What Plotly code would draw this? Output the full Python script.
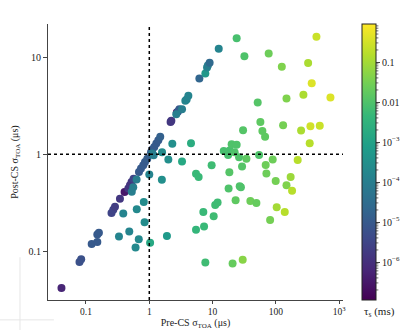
import numpy as np
import plotly.graph_objects as go

# pre-CS and post-CS TOA uncertainty (us), scattering timescale tau_s (ms)
pre_cs = [0.041, 0.079, 0.084, 0.123, 0.151, 0.151, 0.160, 0.253, 0.270, 0.287,
          0.344, 0.407, 0.466, 0.495, 0.525, 0.565, 0.687, 0.739, 0.804, 0.855,
          0.930, 1.064, 1.115, 1.20, 1.29, 1.39, 1.49, 2.17, 2.23, 2.72,
          2.84, 2.98, 3.29, 2.67, 3.71, 3.89, 4.14, 6.18, 7.68, 8.17,
          8.41, 8.98, 12.5,
          0.332, 0.483, 0.607, 0.682, 0.843, 1.03, 0.388, 0.634, 0.819, 0.529,
          0.558, 0.630, 1.0, 1.58, 1.90, 1.17, 1.11, 1.59, 2.00, 2.31,
          3.29, 4.56,
          9.66, 5.47, 6.02, 7.14, 5.47, 7.33, 7.68, 11.0, 12.0, 10.4,
          15.0, 17.6, 18.6, 22.3, 20.0, 24.0, 26.2, 34.2, 18.4, 29.2,
          17.9, 26.8, 28.0, 23.1, 39.5, 49.2, 20.7, 29.9, 24.0, 31.8,
          30.3, 51.6, 56.9, 61.2, 67.5, 54.2, 76.9, 124, 147, 130,
          89.0, 69.0, 70.8, 99.3, 147, 81.0,
          437, 323, 368, 272, 727, 250, 351, 493, 342, 221,
          171, 180, 103, 138]
post_cs = [0.042, 0.078, 0.083, 0.119, 0.125, 0.149, 0.156, 0.248, 0.268, 0.288,
           0.348, 0.409, 0.443, 0.479, 0.518, 0.559, 0.657, 0.712, 0.770, 0.833,
           0.899, 1.048, 1.118, 1.19, 1.29, 1.39, 1.51, 2.15, 2.21, 2.69,
           2.76, 2.91, 2.91, 2.58, 3.54, 3.65, 3.99, 6.00, 6.79, 7.80,
           8.17, 8.73, 12.2,
           0.142, 0.160, 0.110, 0.133, 0.199, 0.123, 0.246, 0.272, 0.322, 0.411,
           0.457, 0.548, 0.618, 0.546, 0.144, 0.977, 1.02, 1.05, 0.882, 1.28,
           0.841, 1.30,
           0.770, 0.630, 0.583, 0.255, 0.167, 0.180, 0.077, 0.300, 0.318, 0.230,
           1.08, 0.983, 1.09, 1.05, 1.27, 1.25, 0.931, 0.899, 0.652, 0.747,
           0.443, 0.468, 0.457, 0.336, 0.330, 0.315, 0.075, 0.082, 15.6, 10.2,
           1.77, 3.41, 2.15, 1.73, 1.51, 0.984, 10.9, 7.94, 3.75, 1.99,
           0.882, 0.776, 0.632, 0.531, 0.479, 0.210,
           16.2, 8.67, 5.36, 4.09, 3.84, 1.75, 1.94, 1.96, 1.30, 0.873,
           0.583, 0.422, 0.284, 0.254]
tau_ms = [6e-7, 6e-6, 6e-6, 1e-5, 1e-5, 1e-5, 1e-5, 3e-6, 3e-6, 2e-6,
          1.5e-6, 3e-7, 1.3e-6, 1.3e-6, 1.3e-6, 3e-6, 1e-5, 1e-5, 1e-5, 1e-5,
          1.2e-5, 1e-5, 1e-5, 1e-5, 1e-5, 1e-5, 1.5e-5, 1.5e-6, 1.5e-6, 1.5e-7,
          1e-5, 1e-5, 1e-4, 1e-4, 1.5e-4, 1.5e-4, 1.5e-4, 2e-5, 5e-4, 1.5e-4,
          1e-4, 2.5e-5, 1.5e-4,
          1.5e-4, 1.5e-4, 2e-4, 2e-4, 2.5e-4, 1.5e-3, 1.5e-4, 2e-4, 2.5e-4, 1e-4,
          1e-4, 1e-4, 1.5e-4, 3e-4, 6e-4, 1e-4, 1e-4, 2.5e-4, 3e-4, 3e-4,
          1.5e-3, 2e-3,
          6e-3, 5e-3, 5e-3, 5e-3, 4e-3, 5e-3, 6e-3, 6e-3, 6e-3, 6e-3,
          8e-3, 8e-3, 8e-3, 0.01, 0.01, 0.01, 0.01, 0.016, 0.012, 0.012,
          0.01, 0.01, 0.01, 0.016, 0.025, 0.02, 0.02, 0.05, 8e-3, 0.01,
          0.012, 0.012, 0.016, 0.016, 0.016, 0.01, 0.025, 0.04, 0.04, 0.03,
          0.025, 0.025, 0.025, 0.03, 0.04, 0.03,
          0.25, 0.12, 0.4, 0.12, 0.4, 0.12, 0.3, 0.25, 0.16, 0.16,
          0.08, 0.16, 0.1, 0.16]

cbar_vals = [-6, -5, -4, -3, -2, -1]
cbar_text = ["10<sup>\u22126</sup>", "10<sup>\u22125</sup>", "10<sup>\u22124</sup>",
             "10<sup>\u22123</sup>", "0.01", "0.1"]
cmin, cmax = -6.95, -0.05

fig = go.Figure(
    go.Scatter(
        x=pre_cs,
        y=post_cs,
        mode="markers",
        marker=dict(
            size=8,
            color=np.log10(tau_ms),
            colorscale="Viridis",
            cmin=cmin,
            cmax=cmax,
            line=dict(width=0),
            colorbar=dict(
                thickness=14,
                len=1,
                lenmode="fraction",
                x=1.064,
                xanchor="left",
                y=0,
                yanchor="bottom",
                xpad=0,
                ypad=0,
                outlinewidth=1,
                outlinecolor="#222",
                tickvals=cbar_vals,
                ticktext=cbar_text,
                ticks="outside",
                ticklen=4,
                tickcolor="#444",
                tickfont=dict(size=10, color="#222"),
            ),
        ),
        showlegend=False,
    )
)

# minor log ticks on the colour bar, drawn beside its right edge
bar_right = 1.064 + 14 / 295
for k in range(-7, 0):
    for m in range(2, 10):
        v = np.log10(m * 10.0 ** k)
        if cmin < v < cmax:
            yp = (v - cmin) / (cmax - cmin)
            fig.add_shape(type="line", xref="paper", yref="paper",
                          x0=bar_right, x1=bar_right + 2.5 / 295, y0=yp, y1=yp,
                          line=dict(color="#444", width=0.8))

fig.add_annotation(text="\u03c4<sub>s</sub> (ms)", xref="paper", yref="paper",
                   x=1.064, y=-0.01, xanchor="left", yanchor="top", showarrow=False,
                   font=dict(size=11, color="#222"))

# dotted guides at sigma = 1 us
fig.add_shape(type="line", xref="x", yref="paper", x0=1, x1=1, y0=0, y1=1,
              line=dict(color="black", width=1.5, dash="dot"))
fig.add_shape(type="line", xref="paper", yref="y", x0=0, x1=1, y0=1, y1=1,
              line=dict(color="black", width=1.5, dash="dot"))

# faint crop marks in the lower left corner
fig.add_shape(type="line", xref="paper", yref="paper", x0=-0.095, x1=-0.095, y0=0.155, y1=-0.11,
              line=dict(color="#e6e6e6", width=1))
fig.add_shape(type="line", xref="paper", yref="paper", x0=-0.163, x1=0.02, y0=-0.072, y1=-0.072,
              line=dict(color="#e6e6e6", width=1))

fig.update_layout(
    width=415,
    height=330,
    margin=dict(l=48, r=72, t=24, b=30, autoexpand=False),
    plot_bgcolor="white",
    paper_bgcolor="white",
    font=dict(family="Liberation Serif", size=10, color="#222"),
    xaxis=dict(
        type="log",
        range=[-1.6, 3.06],
        tickvals=[0.1, 1, 10, 100, 1000],
        ticktext=["0.1", "1", "10", "100", "10<sup>3</sup>"],
        ticks="outside",
        ticklen=3,
        tickcolor="#444",
        tickfont=dict(size=9.5),
        showgrid=False,
        zeroline=False,
        showline=True,
        linecolor="#444",
        linewidth=1,
        automargin=False,
        title=dict(text="Pre-CS \u03c3<sub>TOA</sub> (\u03bcs)", standoff=6,
                   font=dict(size=10)),
    ),
    yaxis=dict(
        type="log",
        range=[-1.5, 1.34],
        tickvals=[0.1, 1, 10],
        ticktext=["0.1", "1", "10"],
        ticks="outside",
        ticklen=4,
        tickcolor="#444",
        showgrid=False,
        zeroline=False,
        showline=True,
        linecolor="#444",
        linewidth=1,
        automargin=False,
        title=dict(text="Post-CS \u03c3<sub>TOA</sub> (\u03bcs)", standoff=8,
                   font=dict(size=10)),
    ),
)

fig.write_html("out.html", config={"displayModeBar": False},
               post_script="document.body.style.margin='0';")
